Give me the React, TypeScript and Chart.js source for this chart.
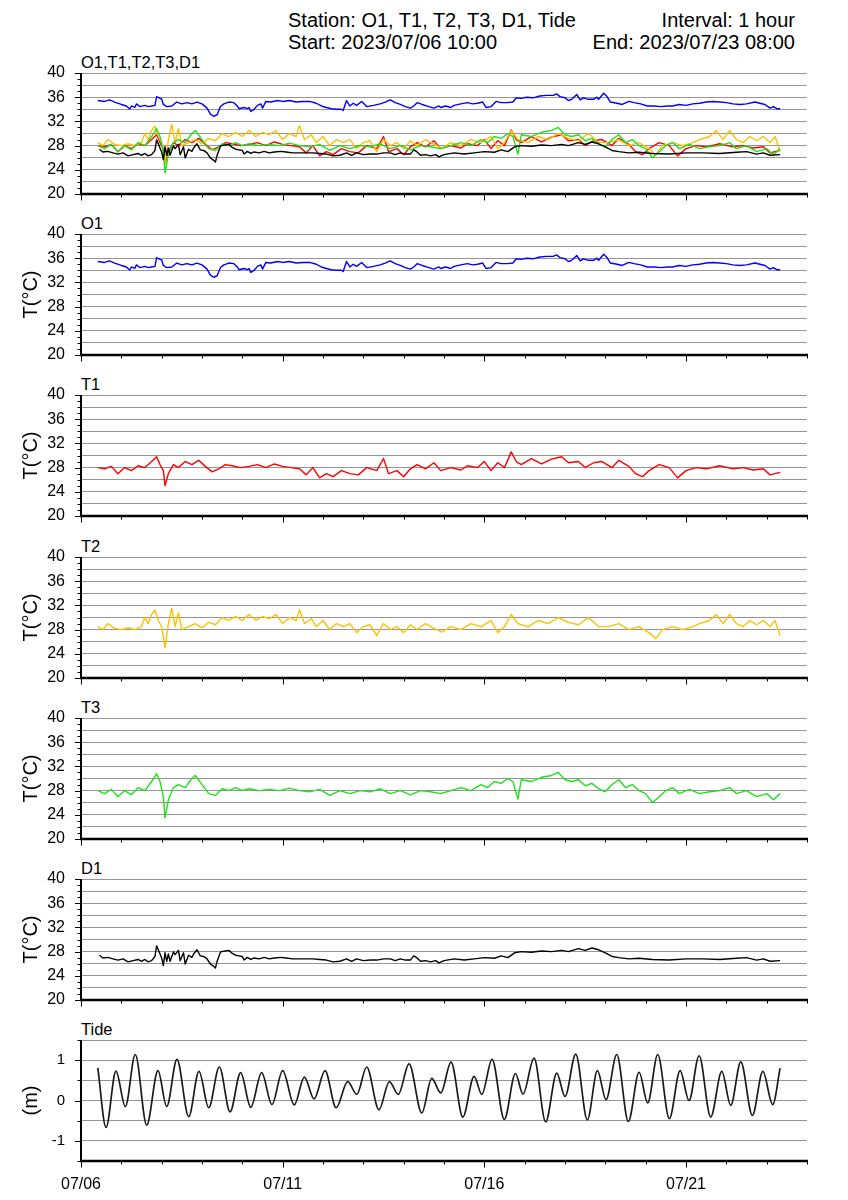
import React, { useEffect, useRef } from 'react';
import { Chart, registerables } from 'chart.js';

Chart.register(...registerables);

const FONT = '"Liberation Sans", Arial, Helvetica, sans-serif';

// x values are hours since 2023/07/06 00:00
const X_MIN = 0;
const X_MAX = 432;
const DAY_HOURS = 24;
const LABEL_EVERY = 120;
const DATE_LABELS = ['07/06', '07/11', '07/16', '07/21'];

const TEMP_LABEL_STEP = 4;
const TEMP_GRID_STEP = 2;
const TIDE_GRID_STEP = 0.5;

const HEADER_LEFT = ['Station: O1, T1, T2, T3, D1, Tide', 'Start: 2023/07/06 10:00'];
const HEADER_RIGHT = ['Interval: 1 hour', 'End: 2023/07/23 08:00'];

type Pt = [number, number];

const O1: Pt[] = [
  [10, 35.45], [14, 35.3], [17, 35.55], [20, 35.2], [24, 34.8], [27, 34.55], [29, 34.05], [30, 34.55],
  [32, 34.3], [33, 34.9], [35, 34.45], [38, 34.65], [40, 34.45], [42, 34.55], [44, 34.65], [45, 36.1],
  [47, 35.8], [48, 35.7], [49, 34.8], [51, 34.45], [54, 34.55], [57, 35.2], [60, 34.9], [63, 35.1],
  [66, 34.9], [69, 35.2], [72, 34.9], [75, 34.2], [77, 33.2], [79, 32.85], [81, 33.1], [83, 34.45],
  [85, 34.9], [88, 35.2], [91, 35.1], [93, 34.55], [94, 34.1], [97, 34.3], [99, 34.1], [100, 34.3],
  [101, 33.65], [103, 34.0], [105, 34.65], [107, 34.9], [108, 34.2], [110, 35.3], [113, 35.2], [117, 35.45],
  [120, 35.3], [124, 35.45], [128, 35.2], [132, 35.3], [136, 35.3], [140, 35.0], [143, 34.55], [146, 34.3],
  [149, 34.1], [152, 34.0], [155, 34.0], [156, 33.8], [158, 35.45], [160, 34.55], [162, 35.0], [164, 34.65],
  [167, 35.3], [170, 34.45], [174, 34.65], [178, 34.9], [181, 35.2], [184, 35.55], [187, 35.1], [190, 34.8],
  [193, 34.45], [196, 34.2], [198, 34.55], [200, 35.1], [203, 34.8], [207, 34.45], [210, 34.2], [213, 34.55],
  [214, 34.3], [217, 34.55], [220, 34.3], [222, 34.65], [226, 34.9], [230, 35.1], [233, 34.9], [236, 35.0],
  [239, 35.2], [241, 34.3], [244, 34.45], [247, 35.3], [250, 35.1], [254, 35.1], [257, 35.2], [259, 35.9],
  [262, 35.8], [265, 36.0], [269, 35.9], [273, 36.2], [277, 36.3], [281, 36.3], [283, 36.55], [285, 36.1],
  [288, 35.9], [290, 35.45], [292, 35.65], [295, 36.45], [297, 35.55], [299, 35.9], [302, 35.65], [305, 35.65],
  [307, 36.0], [308, 35.65], [311, 36.65], [313, 36.1], [315, 35.2], [319, 35.0], [322, 34.8], [326, 35.3],
  [329, 35.1], [333, 34.9], [337, 34.55], [341, 34.55], [345, 34.45], [349, 34.55], [352, 34.55], [356, 34.8],
  [360, 34.65], [364, 34.9], [368, 35.0], [372, 35.2], [376, 35.3], [380, 35.2], [384, 35.1], [388, 34.9],
  [392, 34.8], [396, 34.9], [401, 35.2], [404, 35.0], [407, 34.8], [410, 34.2], [412, 34.45], [414, 34.1],
  [416, 34.1],
];

const T1: Pt[] = [
  [10, 28.0], [14, 27.8], [18, 28.2], [22, 27.0], [26, 28.0], [30, 27.5], [34, 28.3], [38, 28.0],
  [42, 29.0], [45, 29.8], [47, 28.5], [49, 27.5], [50, 25.0], [52, 27.0], [55, 28.5], [58, 28.0],
  [62, 29.0], [66, 28.5], [70, 29.2], [74, 28.2], [78, 27.3], [82, 27.8], [86, 28.5], [90, 28.3],
  [95, 28.0], [100, 28.2], [105, 28.5], [110, 28.0], [115, 28.6], [120, 28.2], [125, 28.0], [130, 27.8],
  [134, 26.8], [138, 28.0], [142, 26.3], [146, 27.0], [150, 26.5], [155, 27.5], [160, 27.0], [165, 26.8],
  [170, 28.0], [176, 27.5], [180, 29.5], [183, 27.0], [188, 27.5], [192, 26.5], [196, 27.8], [200, 28.5],
  [205, 27.8], [210, 28.8], [214, 27.5], [220, 28.0], [226, 27.6], [230, 28.3], [236, 28.0], [240, 29.0],
  [244, 27.5], [248, 28.8], [252, 28.0], [256, 30.6], [259, 29.0], [262, 28.5], [268, 29.5], [274, 28.6],
  [280, 29.4], [286, 29.8], [290, 28.8], [296, 29.0], [300, 28.0], [305, 28.8], [310, 29.0], [316, 28.0],
  [320, 29.2], [326, 28.2], [330, 27.0], [334, 26.5], [338, 27.5], [344, 28.5], [350, 28.0], [355, 26.3],
  [360, 27.5], [366, 28.0], [372, 27.8], [380, 28.3], [388, 27.8], [394, 28.0], [400, 27.6], [406, 27.8],
  [410, 26.8], [416, 27.2],
];

const T2: Pt[] = [
  [10, 28.5], [13, 28.0], [16, 29.0], [20, 28.2], [24, 28.0], [28, 28.3], [32, 28.0], [36, 28.5],
  [38, 30.0], [40, 29.0], [42, 30.5], [44, 31.2], [46, 29.5], [48, 28.5], [50, 25.0], [52, 29.0],
  [54, 31.5], [56, 28.5], [58, 30.8], [60, 28.0], [64, 28.5], [68, 29.0], [72, 28.3], [76, 29.2],
  [80, 28.8], [84, 30.0], [88, 29.5], [92, 30.2], [96, 29.5], [100, 30.5], [104, 29.5], [108, 30.2],
  [112, 29.8], [116, 30.5], [120, 29.0], [124, 30.0], [128, 29.5], [130, 31.3], [133, 29.0], [137, 29.8],
  [140, 28.5], [144, 29.5], [148, 28.0], [152, 29.0], [156, 28.5], [160, 29.0], [164, 27.5], [168, 28.5],
  [172, 28.8], [176, 27.0], [180, 29.0], [184, 28.0], [188, 28.5], [192, 27.5], [196, 28.8], [200, 28.0],
  [205, 29.0], [210, 28.2], [215, 27.6], [220, 28.5], [226, 28.0], [232, 29.0], [238, 28.5], [244, 29.5],
  [248, 27.5], [252, 28.5], [256, 30.5], [260, 29.0], [266, 28.5], [272, 29.5], [278, 29.0], [284, 30.0],
  [290, 29.2], [296, 28.8], [302, 30.0], [308, 28.5], [314, 28.5], [320, 29.0], [326, 28.0], [332, 28.5],
  [338, 27.5], [342, 26.5], [346, 28.0], [352, 28.5], [358, 28.0], [364, 28.5], [368, 29.0], [374, 29.5],
  [378, 30.5], [382, 29.0], [386, 30.5], [390, 29.0], [394, 28.5], [398, 29.5], [402, 28.8], [406, 29.5],
  [410, 28.5], [413, 29.5], [416, 27.0],
];

const T3: Pt[] = [
  [10, 28.0], [14, 27.5], [18, 28.2], [22, 27.0], [26, 28.0], [30, 27.3], [34, 28.5], [38, 28.0],
  [42, 29.5], [45, 30.8], [47, 29.5], [49, 27.0], [50, 23.5], [52, 26.5], [55, 28.5], [58, 29.0],
  [62, 28.5], [66, 30.0], [68, 30.5], [72, 29.0], [76, 27.5], [80, 27.2], [84, 28.3], [88, 28.0],
  [92, 28.5], [96, 28.0], [100, 28.3], [106, 28.0], [112, 28.2], [118, 28.0], [124, 28.4], [130, 28.0],
  [136, 27.8], [142, 28.2], [148, 27.2], [154, 28.0], [160, 27.5], [166, 28.0], [172, 27.8], [178, 28.3],
  [184, 27.5], [190, 28.0], [196, 27.3], [202, 28.0], [208, 27.8], [214, 27.5], [220, 28.0], [226, 28.5],
  [232, 28.0], [238, 29.0], [242, 28.5], [246, 29.5], [250, 29.2], [254, 30.0], [257, 29.5], [260, 26.6],
  [262, 29.8], [268, 29.5], [274, 30.2], [280, 30.5], [284, 31.0], [288, 29.8], [292, 29.5], [296, 29.8],
  [300, 28.8], [304, 29.2], [308, 28.3], [312, 27.8], [316, 29.0], [320, 29.8], [324, 28.5], [328, 29.0],
  [332, 28.0], [336, 27.5], [340, 26.0], [344, 27.0], [348, 28.0], [352, 28.5], [356, 27.5], [362, 28.2],
  [368, 27.5], [374, 27.8], [380, 28.0], [386, 28.5], [390, 27.5], [396, 28.0], [402, 27.0], [408, 27.5],
  [412, 26.5], [416, 27.5],
];

const D1: Pt[] = [
  [11, 27.4], [13, 26.95], [16, 27.05], [19, 26.8], [22, 26.6], [25, 26.8], [28, 26.3], [31, 26.5],
  [34, 26.7], [36, 26.4], [38, 26.7], [40, 26.3], [42, 26.5], [44, 27.2], [45, 28.95], [46, 28.3],
  [48, 26.95], [49, 25.7], [50, 27.8], [51, 26.4], [52, 27.6], [53, 26.4], [55, 27.95], [56, 27.5],
  [58, 28.2], [59, 26.5], [61, 27.8], [62, 25.95], [64, 27.4], [66, 27.05], [67, 27.6], [69, 28.3],
  [71, 27.3], [73, 27.2], [75, 26.8], [77, 25.95], [79, 25.55], [80, 25.3], [81, 26.4], [83, 27.95],
  [85, 28.05], [88, 28.2], [90, 27.7], [92, 27.4], [94, 27.3], [96, 27.2], [97, 26.6], [99, 27.05],
  [101, 26.7], [103, 26.95], [106, 26.8], [109, 27.05], [112, 26.8], [115, 26.95], [119, 27.05], [122, 26.95],
  [126, 26.8], [130, 26.8], [134, 26.8], [138, 26.8], [142, 26.7], [146, 26.6], [150, 26.3], [154, 26.4],
  [158, 26.8], [161, 26.4], [164, 26.8], [168, 26.5], [172, 26.6], [176, 26.6], [180, 26.8], [184, 26.8],
  [187, 26.5], [190, 26.8], [193, 26.6], [196, 26.6], [198, 27.3], [200, 26.95], [202, 26.4], [205, 26.5],
  [208, 26.3], [211, 26.5], [213, 26.15], [216, 26.5], [222, 26.8], [228, 26.6], [234, 26.8], [240, 27.0],
  [246, 26.9], [250, 27.3], [254, 27.0], [258, 27.8], [262, 28.0], [268, 27.9], [274, 28.1], [280, 28.0],
  [286, 28.2], [290, 28.0], [296, 28.5], [300, 28.2], [304, 28.6], [308, 28.3], [312, 27.8], [316, 27.2],
  [320, 27.0], [326, 26.8], [332, 26.9], [340, 26.7], [350, 26.6], [360, 26.8], [370, 26.8], [380, 26.7],
  [390, 26.9], [396, 27.0], [402, 26.6], [406, 26.8], [410, 26.4], [416, 26.5],
];

const TIDE: Pt[] = [
  [10, 0.81], [14.9, -0.67], [20.8, 0.73], [26.4, -0.15], [32.3, 1.14], [39.1, -0.61], [45.8, 0.74],
  [51, -0.15], [57.1, 1.02], [64.1, -0.40], [70.2, 0.72], [76, -0.18], [82.3, 0.83], [88.7, -0.28],
  [95, 0.69], [101, -0.17], [107.5, 0.69], [113.6, -0.10], [120, 0.74], [126.9, -0.11], [132.9, 0.58],
  [138.7, 0.04], [145.2, 0.74], [151.8, -0.18], [158.7, 0.47], [164.1, 0.15], [170, 0.83], [177.3, -0.23],
  [183.5, 0.47], [188.8, 0.15], [195.2, 0.91], [202.8, -0.31], [208.7, 0.55], [214.1, 0.19], [220.2, 0.95],
  [227.2, -0.41], [233.9, 0.60], [238.5, 0.15], [244.6, 1.02], [251.9, -0.47], [258.5, 0.67], [263, 0.16],
  [269.6, 1.05], [276.5, -0.53], [283.1, 0.68], [288, 0.10], [294.4, 1.15], [301.3, -0.48], [307.3, 0.74],
  [312.4, 0.02], [318.8, 1.14], [325.7, -0.52], [332.1, 0.70], [337.2, -0.06], [343.2, 1.14], [350.1, -0.45],
  [356.5, 0.74], [361.8, 0.0], [367.8, 1.11], [374.7, -0.41], [381.3, 0.72], [386.6, -0.12], [392.6, 0.96],
  [399.5, -0.37], [405.7, 0.72], [411.6, -0.10], [416, 0.80],
];

const COLORS = {
  O1: '#0000ff',
  T1: '#ff0000',
  T2: '#ffc000',
  T3: '#22e01e',
  D1: '#000000',
  TIDE: '#1a1a1a',
};

type Series = { data: Pt[]; color: string; order: number };
type PanelDef = {
  label: string;
  series: Series[];
  min: number;
  max: number;
  gridStep: number;
  labelStep: number;
  minorStep: number;
  yTitle: string;
  smooth: boolean;
  showDates: boolean;
};

const TEMP_RANGE = { min: 20, max: 40 };
const TIDE_RANGE = { min: -1.5, max: 1.5 };

const PANELS: PanelDef[] = [
  {
    label: 'O1,T1,T2,T3,D1',
    series: [
      { data: O1, color: COLORS.O1, order: 5 },
      { data: T1, color: COLORS.T1, order: 4 },
      { data: T2, color: COLORS.T2, order: 3 },
      { data: T3, color: COLORS.T3, order: 2 },
      { data: D1, color: COLORS.D1, order: 1 },
    ],
    ...TEMP_RANGE, gridStep: TEMP_GRID_STEP, labelStep: TEMP_LABEL_STEP, minorStep: 1, yTitle: '', smooth: false, showDates: false,
  },
  { label: 'O1', series: [{ data: O1, color: COLORS.O1, order: 1 }], ...TEMP_RANGE, gridStep: TEMP_GRID_STEP, labelStep: TEMP_LABEL_STEP, minorStep: 1, yTitle: 'T(°C)', smooth: false, showDates: false },
  { label: 'T1', series: [{ data: T1, color: COLORS.T1, order: 1 }], ...TEMP_RANGE, gridStep: TEMP_GRID_STEP, labelStep: TEMP_LABEL_STEP, minorStep: 1, yTitle: 'T(°C)', smooth: false, showDates: false },
  { label: 'T2', series: [{ data: T2, color: COLORS.T2, order: 1 }], ...TEMP_RANGE, gridStep: TEMP_GRID_STEP, labelStep: TEMP_LABEL_STEP, minorStep: 1, yTitle: 'T(°C)', smooth: false, showDates: false },
  { label: 'T3', series: [{ data: T3, color: COLORS.T3, order: 1 }], ...TEMP_RANGE, gridStep: TEMP_GRID_STEP, labelStep: TEMP_LABEL_STEP, minorStep: 1, yTitle: 'T(°C)', smooth: false, showDates: false },
  { label: 'D1', series: [{ data: D1, color: COLORS.D1, order: 1 }], ...TEMP_RANGE, gridStep: TEMP_GRID_STEP, labelStep: TEMP_LABEL_STEP, minorStep: 1, yTitle: 'T(°C)', smooth: false, showDates: false },
  { label: 'Tide', series: [{ data: TIDE, color: COLORS.TIDE, order: 1 }], ...TIDE_RANGE, gridStep: TIDE_GRID_STEP, labelStep: 1, minorStep: 0.5, yTitle: '(m)', smooth: true, showDates: true },
];

// layout (pixels)
const PAGE_W = 848;
const FIRST_TOP = 73;
const PANEL_GAP = 161.2;
const PLOT_H = 121;
const PAD_TOP = 12;
const AXIS_W = 81;
const PAD_RIGHT = 41;
const X_AXIS_H_PLAIN = 10;
const X_AXIS_H_DATES = 36;

const isMultiple = (v: number, step: number) => Math.abs(v / step - Math.round(v / step)) < 1e-6;

const framePlugin = {
  id: 'frame',
  afterDraw(chart: any, _args: any, opts: any) {
    const { ctx, chartArea: a, scales } = chart;
    const xs = scales.x;
    const ys = scales.y;
    ctx.save();
    ctx.strokeStyle = '#000';
    ctx.lineWidth = 1;
    for (let v = opts.min; v <= opts.max + 1e-9; v += opts.minorStep) {
      const py = Math.round(ys.getPixelForValue(v)) + 0.5;
      const len = isMultiple(v, opts.labelStep) ? 6 : 3.5;
      ctx.beginPath();
      ctx.moveTo(a.left, py);
      ctx.lineTo(a.left - len, py);
      ctx.stroke();
    }
    for (let v = X_MIN; v <= X_MAX; v += DAY_HOURS) {
      const px = Math.round(xs.getPixelForValue(v)) + 0.5;
      const len = v % LABEL_EVERY === 0 ? 6.5 : 3.5;
      ctx.beginPath();
      ctx.moveTo(px, a.bottom);
      ctx.lineTo(px, a.bottom + len);
      ctx.stroke();
    }
    ctx.lineWidth = 2;
    ctx.beginPath();
    ctx.moveTo(a.left, a.top);
    ctx.lineTo(a.left, a.bottom);
    ctx.stroke();
    ctx.lineWidth = 2.5;
    ctx.beginPath();
    ctx.moveTo(a.left - 1, a.bottom);
    ctx.lineTo(a.right + 1, a.bottom);
    ctx.stroke();
    ctx.restore();
  },
};

function PanelChart({ def, index }: { def: PanelDef; index: number }) {
  const ref = useRef<HTMLCanvasElement>(null);
  const plotTop = Math.round(FIRST_TOP + PANEL_GAP * index);
  const xAxisH = def.showDates ? X_AXIS_H_DATES : X_AXIS_H_PLAIN;
  const canvasH = PAD_TOP + PLOT_H + xAxisH;

  useEffect(() => {
    const canvas = ref.current;
    if (!canvas) return;
    const chart = new Chart(canvas, {
      type: 'line',
      data: {
        datasets: def.series.map((s) => ({
          data: s.data.map(([x, y]) => ({ x, y })),
          borderColor: s.color,
          backgroundColor: s.color,
          borderWidth: def.smooth ? 1.7 : 1.4,
          pointRadius: 0,
          fill: false,
          order: s.order,
          tension: 0,
          cubicInterpolationMode: def.smooth ? 'monotone' : 'default',
          borderJoinStyle: 'round',
        })),
      },
      options: {
        responsive: false,
        animation: false,
        devicePixelRatio: 1,
        events: [],
        layout: { padding: { top: PAD_TOP, right: PAD_RIGHT, left: 0, bottom: 0 } },
        plugins: {
          legend: { display: false },
          tooltip: { enabled: false },
          title: { display: false },
          frame: { min: def.min, max: def.max, minorStep: def.minorStep, labelStep: def.labelStep },
        } as any,
        scales: {
          x: {
            type: 'linear',
            min: X_MIN,
            max: X_MAX,
            afterFit: (s: any) => {
              s.height = xAxisH;
              s.paddingTop = 0;
              s.paddingBottom = 0;
            },
            grid: { display: false, drawTicks: false },
            border: { display: false },
            ticks: {
              display: def.showDates,
              stepSize: DAY_HOURS,
              autoSkip: false,
              maxRotation: 0,
              padding: 14,
              color: '#000',
              font: { family: FONT, size: 16 },
              callback: (v: any) => (Number(v) % LABEL_EVERY === 0 ? DATE_LABELS[Number(v) / LABEL_EVERY] ?? '' : ''),
            },
          },
          y: {
            type: 'linear',
            min: def.min,
            max: def.max,
            afterFit: (s: any) => {
              s.width = AXIS_W;
              s.paddingTop = 0;
              s.paddingBottom = 0;
            },
            grid: {
              drawTicks: false,
              color: (c: any) => (c.tick && Math.abs(c.tick.value - def.min) < 1e-9 ? 'rgba(0,0,0,0)' : '#969696'),
              lineWidth: 1,
            },
            border: { display: false },
            ticks: {
              stepSize: def.gridStep,
              autoSkip: false,
              padding: 16,
              color: '#000',
              font: { family: FONT, size: def.smooth ? 15 : 16 },
              callback: (v: any) => (isMultiple(Number(v), def.labelStep) ? String(Math.round(Number(v))) : ''),
            },
            title: {
              display: def.yTitle !== '',
              text: def.yTitle,
              color: '#000',
              font: { family: FONT, size: 20 },
              padding: { top: 19, bottom: 0 },
            },
          },
        },
      } as any,
      plugins: [framePlugin],
    });
    return () => chart.destroy();
  }, [def, xAxisH]);

  return (
    <>
      <div
        style={{
          position: 'absolute',
          left: 81,
          top: plotTop - 19,
          fontFamily: FONT,
          fontSize: 16.5,
          lineHeight: '16.5px',
          whiteSpace: 'nowrap',
          color: '#000',
        }}
      >
        {def.label}
      </div>
      <canvas
        ref={ref}
        width={PAGE_W}
        height={canvasH}
        style={{ position: 'absolute', left: 0, top: plotTop - PAD_TOP, width: PAGE_W, height: canvasH, display: 'block' }}
      />
    </>
  );
}

export default function App() {
  const headerStyle: React.CSSProperties = {
    position: 'absolute',
    fontFamily: FONT,
    fontSize: 20,
    lineHeight: '20px',
    whiteSpace: 'nowrap',
    color: '#000',
  };
  return (
    <div style={{ position: 'absolute', left: 0, top: 0, width: PAGE_W, height: 1200, background: '#fff', overflow: 'hidden' }}>
      <div style={{ ...headerStyle, left: 288, top: 10 }}>{HEADER_LEFT[0]}</div>
      <div style={{ ...headerStyle, left: 288, top: 32 }}>{HEADER_LEFT[1]}</div>
      <div style={{ ...headerStyle, right: PAGE_W - 795, top: 10, textAlign: 'right' }}>{HEADER_RIGHT[0]}</div>
      <div style={{ ...headerStyle, right: PAGE_W - 795, top: 32, textAlign: 'right' }}>{HEADER_RIGHT[1]}</div>
      {PANELS.map((p, i) => (
        <PanelChart key={i} def={p} index={i} />
      ))}
    </div>
  );
}
